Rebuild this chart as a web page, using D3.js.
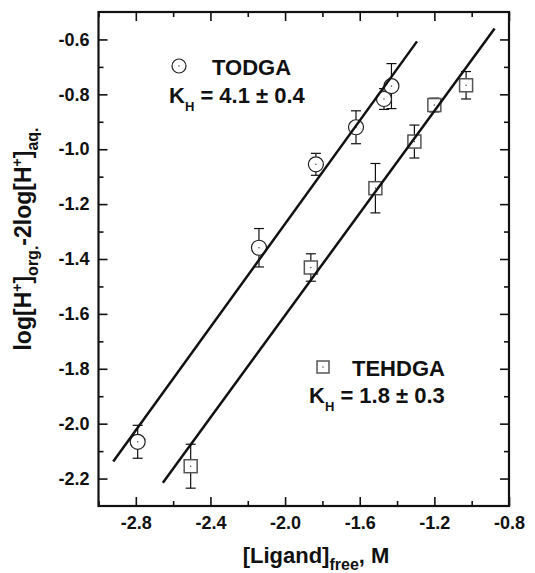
<!DOCTYPE html>
<html>
<head>
<meta charset="utf-8">
<script src="https://cdn.jsdelivr.net/npm/d3@7"></script>
<style>
  html, body { margin: 0; padding: 0; background: #fff; }
  svg { display: block; }
  text { font-family: "Liberation Sans", Arial, Helvetica, sans-serif; font-weight: bold; fill: #111; }
</style>
</head>
<body>
<svg id="chart" width="535" height="573"></svg>
<script>
// ---- data ----
const todgaX   = [-2.79, -2.14, -1.835, -1.62, -1.47, -1.43];
const todgaY   = [-2.066, -1.359, -1.055, -0.920, -0.817, -0.770];
const todgaErr = [0.06, 0.07, 0.04, 0.06, 0.038, 0.082];

const tehdgaX   = [-2.506, -1.862, -1.516, -1.307, -1.200, -1.030];
const tehdgaY   = [-2.155, -1.431, -1.142, -0.972, -0.839, -0.767];
const tehdgaErr = [0.08, 0.05, 0.09, 0.06, 0.025, 0.05];

const todgaFitX  = [-2.921, -1.293];
const todgaFitY  = [-2.138, -0.607];
const tehdgaFitX = [-2.655, -0.877];
const tehdgaFitY = [-2.215, -0.560];

const xDomain = [-3.0, -0.8];
const yDomain = [-2.3, -0.5];
const xMajor = [-2.8, -2.4, -2.0, -1.6, -1.2, -0.8];
const xMinor = [-3.0, -2.6, -2.2, -1.8, -1.4, -1.0];
const xTickLabels = ["-2.8", "-2.4", "-2.0", "-1.6", "-1.2", "-0.8"];
const yMajor = [-0.6, -0.8, -1.0, -1.2, -1.4, -1.6, -1.8, -2.0, -2.2];
const yMinor = [-0.7, -0.9, -1.1, -1.3, -1.5, -1.7, -1.9, -2.1];
const yTickLabels = ["-0.6", "-0.8", "-1.0", "-1.2", "-1.4", "-1.6", "-1.8", "-2.0", "-2.2"];

// ---- layout ----
const L = 98.5, R = 509, T = 12, B = 506;
const svg = d3.select("#chart");
const x = d3.scaleLinear().domain(xDomain).range([L, R]);
const y = d3.scaleLinear().domain(yDomain).range([B, T]);

const majLen = 9, minLen = 5;

function styleAxis(g) {
  g.select(".domain").remove();
  g.selectAll(".tick line").attr("stroke", "#111").attr("stroke-width", 1.6);
  g.selectAll(".tick text").style("font-size", "18px").attr("fill", "#111");
}

// bottom
svg.append("g").attr("transform", `translate(0,${B})`)
  .call(d3.axisBottom(x).tickValues(xMajor).tickSize(-majLen).tickPadding(10)
    .tickFormat((d, i) => xTickLabels[i]))
  .call(styleAxis);
svg.append("g").attr("transform", `translate(0,${B})`)
  .call(d3.axisBottom(x).tickValues(xMinor).tickSize(-minLen).tickFormat(""))
  .call(styleAxis);
// top
svg.append("g").attr("transform", `translate(0,${T})`)
  .call(d3.axisTop(x).tickValues(xMajor).tickSize(-majLen).tickFormat(""))
  .call(styleAxis);
svg.append("g").attr("transform", `translate(0,${T})`)
  .call(d3.axisTop(x).tickValues(xMinor).tickSize(-minLen).tickFormat(""))
  .call(styleAxis);
// left
svg.append("g").attr("transform", `translate(${L},0)`)
  .call(d3.axisLeft(y).tickValues(yMajor).tickSize(-majLen).tickPadding(9)
    .tickFormat((d, i) => yTickLabels[i]))
  .call(styleAxis);
svg.append("g").attr("transform", `translate(${L},0)`)
  .call(d3.axisLeft(y).tickValues(yMinor).tickSize(-minLen).tickFormat(""))
  .call(styleAxis);
// right
svg.append("g").attr("transform", `translate(${R},0)`)
  .call(d3.axisRight(y).tickValues(yMajor).tickSize(-majLen).tickFormat(""))
  .call(styleAxis);
svg.append("g").attr("transform", `translate(${R},0)`)
  .call(d3.axisRight(y).tickValues(yMinor).tickSize(-minLen).tickFormat(""))
  .call(styleAxis);

// frame
svg.append("rect").attr("x", L).attr("y", T).attr("width", R - L).attr("height", B - T)
  .attr("fill", "none").attr("stroke", "#111").attr("stroke-width", 2.2);

// ---- error bars ----
function errorBars(xs, ys, es) {
  const g = svg.append("g").attr("stroke", "#111").attr("stroke-width", 1.2);
  const cap = 5;
  xs.forEach((xv, i) => {
    const cx = x(xv), top = y(ys[i] + es[i]), bot = y(ys[i] - es[i]);
    g.append("line").attr("x1", cx).attr("x2", cx).attr("y1", top).attr("y2", bot);
    g.append("line").attr("x1", cx - cap).attr("x2", cx + cap).attr("y1", top).attr("y2", top);
    g.append("line").attr("x1", cx - cap).attr("x2", cx + cap).attr("y1", bot).attr("y2", bot);
  });
}
errorBars(todgaX, todgaY, todgaErr);
errorBars(tehdgaX, tehdgaY, tehdgaErr);

// ---- markers ----
const circR = 7.5, sqS = 13;
svg.append("g").selectAll("circle").data(todgaX).join("circle")
  .attr("cx", d => x(d)).attr("cy", (d, i) => y(todgaY[i])).attr("r", circR)
  .attr("fill", "#fff").attr("stroke", "#222").attr("stroke-width", 1.2);
svg.append("g").selectAll("rect").data(tehdgaX).join("rect")
  .attr("x", d => x(d) - sqS / 2).attr("y", (d, i) => y(tehdgaY[i]) - sqS / 2)
  .attr("width", sqS).attr("height", sqS)
  .attr("fill", "#fff").attr("stroke", "#555").attr("stroke-width", 1.5);
// centre dots
svg.append("g").selectAll("rect").data(todgaX.map((d, i) => [d, todgaY[i]])
    .concat(tehdgaX.map((d, i) => [d, tehdgaY[i]]))).join("rect")
  .attr("x", d => x(d[0]) - 0.6).attr("y", d => y(d[1]) - 0.6)
  .attr("width", 1.2).attr("height", 1.2).attr("fill", "#333");

// ---- fit lines ----
const line = d3.line().x(d => x(d[0])).y(d => y(d[1]));
[[todgaFitX, todgaFitY], [tehdgaFitX, tehdgaFitY]].forEach(([fx, fy]) => {
  svg.append("path").datum(fx.map((d, i) => [d, fy[i]]))
    .attr("d", line).attr("fill", "none").attr("stroke", "#111").attr("stroke-width", 2.5);
});

// ---- legends ----
svg.append("circle").attr("cx", 179).attr("cy", 66).attr("r", 7)
  .attr("fill", "#fff").attr("stroke", "#222").attr("stroke-width", 1.2);
svg.append("rect").attr("x", 178.4).attr("y", 65.4).attr("width", 1.2).attr("height", 1.2).attr("fill", "#333");
svg.append("text").attr("x", 212).attr("y", 75).style("font-size", "22px").text("TODGA");
const k1 = svg.append("text").attr("x", 169).attr("y", 103).style("font-size", "22px");
k1.append("tspan").text("K");
k1.append("tspan").attr("dy", 8).style("font-size", "13px").text("H");
k1.append("tspan").attr("dy", -8).text(" = 4.1 ± 0.4");

svg.append("rect").attr("x", 317).attr("y", 361).attr("width", 12).attr("height", 12)
  .attr("fill", "#fff").attr("stroke", "#555").attr("stroke-width", 1.5);
svg.append("rect").attr("x", 322.4).attr("y", 366.4).attr("width", 1.2).attr("height", 1.2).attr("fill", "#333");
svg.append("text").attr("x", 352).attr("y", 376).style("font-size", "22px").text("TEHDGA");
const k2 = svg.append("text").attr("x", 309).attr("y", 403).style("font-size", "22px");
k2.append("tspan").text("K");
k2.append("tspan").attr("dy", 8).style("font-size", "13px").text("H");
k2.append("tspan").attr("dy", -8).text(" = 1.8 ± 0.3");

// ---- axis titles ----
const xt = svg.append("text").attr("x", 316).attr("y", 563).attr("text-anchor", "middle")
  .style("font-size", "22px");
xt.append("tspan").text("[Ligand]");
xt.append("tspan").attr("dy", 7).style("font-size", "16px").text("free");
xt.append("tspan").attr("dy", -7).text(", M");

const yt = svg.append("text").attr("transform", "translate(31,239) rotate(-90)")
  .attr("text-anchor", "middle").style("font-size", "23px");
yt.append("tspan").text("log[H");
yt.append("tspan").attr("dy", -9).style("font-size", "14px").text("+");
yt.append("tspan").attr("dy", 9).text("]");
yt.append("tspan").attr("dy", 7).style("font-size", "16px").text("org.");
yt.append("tspan").attr("dy", -7).text("-2log[H");
yt.append("tspan").attr("dy", -9).style("font-size", "14px").text("+");
yt.append("tspan").attr("dy", 9).text("]");
yt.append("tspan").attr("dy", 7).style("font-size", "16px").text("aq.");
</script>
</body>
</html>
